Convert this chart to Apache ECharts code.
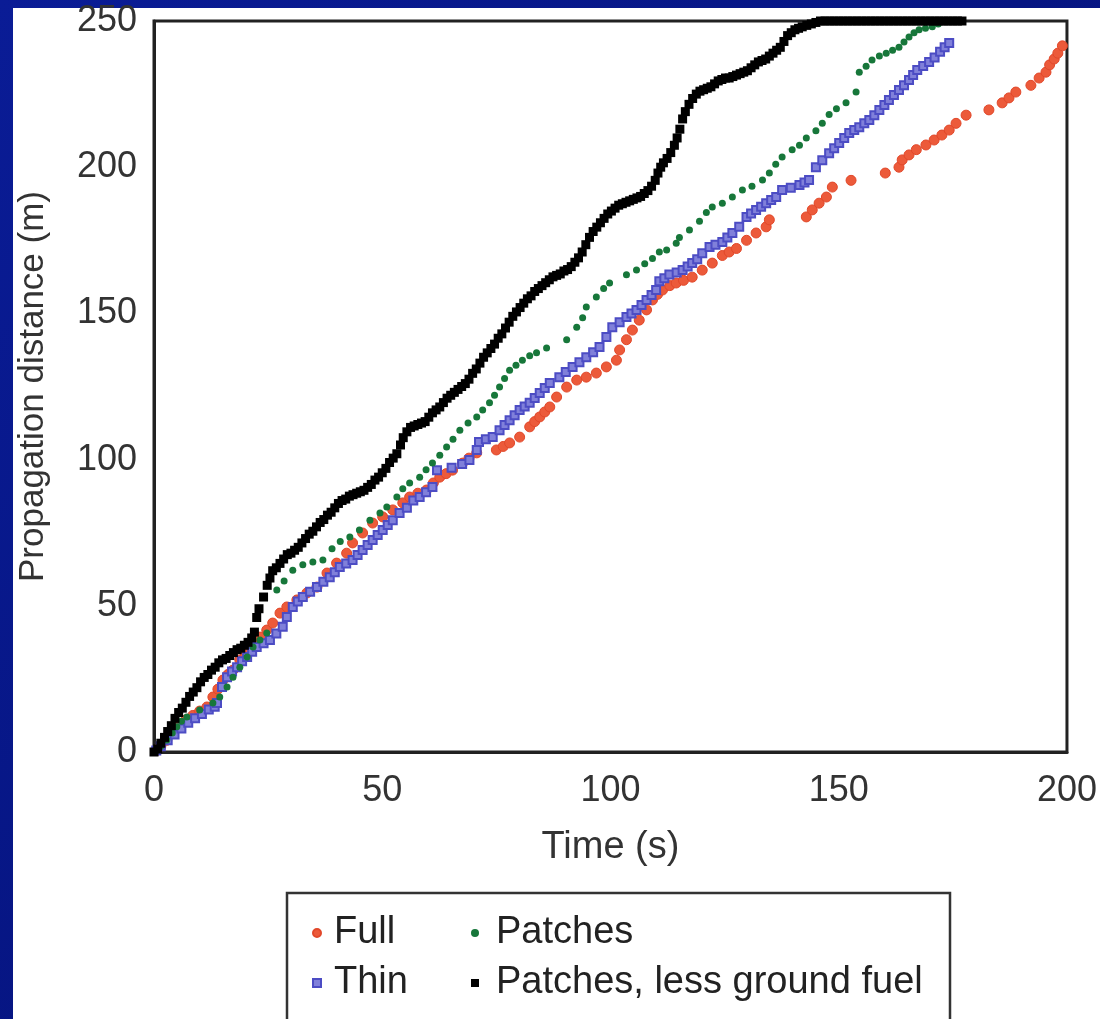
<!DOCTYPE html>
<html>
<head>
<meta charset="utf-8">
<script src="https://cdn.jsdelivr.net/npm/echarts@6/dist/echarts.min.js"></script>
<style>
html,body{margin:0;padding:0;background:#0a1a8a;}
#chart{width:1100px;height:1019px;}
</style>
</head>
<body>
<div id="chart"></div>
<script>
var seriesNames = ['Full', 'Thin', 'Patches', 'Patches, less ground fuel'];
var xTicks = [0, 50, 100, 150, 200];
var yTicks = [0, 50, 100, 150, 200, 250];

var fullData = [[0.5,0.5],[1.5,2],[2.8,4],[4.2,6.5],[5.6,9],[7,11],[8.5,12.5],[10,14],[11.6,15.4],[12.9,18.8],[14,21.5],[15.1,24.6],[16.2,26.5],[17.3,28],[18.8,31.5],[20,33],[21,34.9],[22.2,37],[23.2,39.3],[24.7,41.7],[26,44.1],[27.6,47.5],[29.1,49.6],[31.3,52],[33.5,54.4],[35.7,56.4],[37.9,61.2],[40,64.6],[42.2,68],[43.5,71.5],[45.7,74.9],[47.9,78.3],[50.1,80.4],[52.3,82.8],[54.5,85.2],[56,87.2],[57.8,88.5],[59.7,89.6],[61.2,92],[62.6,94],[64,95.2],[65.4,96.4],[67.6,98.8],[69,100.5],[70.7,102.3],[75,103.3],[76.5,104.5],[77.9,105.7],[80.1,107.7],[82.3,111.2],[83.4,113],[84.5,114.6],[85.6,116.3],[86.7,118],[88.2,121.4],[90.4,124.8],[92.6,127.2],[94.7,128.2],[96.9,129.6],[99.1,131.7],[101.3,134],[102,137.5],[103.5,141],[104.8,144.3],[106.3,147.7],[107.9,151.2],[109.2,154.6],[110.3,156.5],[111.4,158],[113,159.5],[114.4,160.4],[116,161.3],[117.9,162.4],[120.1,164.8],[122.3,167.2],[124.5,169.8],[126,171],[127.6,172.2],[129.8,175],[131.9,177.5],[134.1,179.6],[134.8,182],[142.9,183],[144.2,185.4],[145.7,187.7],[147.3,189.8],[148.6,193.2],[152.7,195.5],[160.2,198],[163.2,200],[163.9,202.5],[165.4,204.2],[167,206],[169.1,207.6],[170.9,209.3],[172.6,211],[174.2,212.7],[175.7,215],[177.9,217.8],[182.9,219.6],[185.8,222],[187.3,223.7],[188.8,225.7],[192.1,228],[193.9,230.5],[195.4,232.5],[196.2,235],[197.2,237],[198,239],[199,241.5]];

var thinData = [[0.5,0.5],[1.5,2],[3,4],[4.5,6],[6,8],[7.5,10],[9,11.5],[10.5,13],[12,14.5],[13.3,15.5],[13.8,16.8],[14.9,22.2],[16,25.6],[17.1,27.5],[18.2,29],[19.3,31],[20.4,32.5],[21.5,34.3],[22.5,35.9],[24,37.2],[25.4,38.3],[26.8,40.5],[28.2,42.8],[29.1,46.2],[30.4,49.6],[31.5,51.5],[32.6,53],[34.2,54.8],[35.7,56.4],[37.1,58.2],[38.5,59.8],[39.6,61.5],[40.7,63.3],[42.1,64.5],[43.5,65.7],[44.6,67.4],[45.7,69.1],[46.8,70.8],[47.9,72.5],[49,74.2],[50.1,75.9],[51.2,77.6],[52.3,79.3],[53.8,81.7],[55.4,83.5],[56.8,86],[58.2,87.2],[59.6,88.8],[61,90.6],[62,96.4],[65.2,97.2],[67.5,98.5],[69.1,99.9],[70.7,103.3],[71.2,106],[72.7,107],[74.2,107.7],[75.7,110],[76.8,111.8],[77.9,113.5],[79,115.2],[80.1,117],[81.2,118.2],[82.3,119.4],[83.4,121.1],[84.5,122.8],[85.6,124.5],[86.7,126.2],[88.8,128.2],[90.2,130],[91.7,131.7],[93.2,133.3],[94.7,135],[96.2,136.7],[97.6,138.5],[99.1,141.9],[100.4,145.3],[102,147],[103.5,148.8],[104.6,150],[105.7,151.2],[106.8,152.9],[107.9,154.6],[109,156.3],[110,158],[110.7,161],[111.8,162],[112.9,163.3],[114.5,164],[115.8,164.8],[116.9,166],[117.9,167.2],[119,168.5],[120.1,170.6],[121.7,172.7],[123,173.5],[124.5,174.4],[125.6,176],[126.7,177.5],[128.2,179.6],[129.8,183],[130.8,184.2],[131.9,185.4],[133,186.5],[134.1,187.7],[135.2,188.8],[136.3,189.8],[137.6,192.2],[139.5,193],[141.4,193.9],[142.5,194.8],[143.5,195.6],[145,200],[146.4,202.4],[147.9,204.8],[149,206.5],[150.1,208.3],[151.2,210],[152.3,211.7],[153.4,212.7],[154.5,213.7],[155.6,215],[156.7,216.1],[157.8,217.8],[158.9,219.6],[160,221.3],[161,223],[162.1,224.7],[163.2,226.4],[164.3,228],[165.4,229.8],[166.3,231.5],[167.2,233.2],[168.5,234.6],[169.8,236],[171,237.5],[172.2,239.5],[173.2,241],[174.2,242.5]];

var patchesData = [[0.5,0.5],[1.5,2],[2.8,4.1],[4,6.5],[5,8.6],[6,10.5],[7.2,12],[10,14.4],[12.9,16.8],[14.4,18.8],[16,22.2],[17.3,25.6],[18.8,29],[20.4,32.5],[21.7,35.9],[23.2,38.3],[24.7,40.7],[26.9,55.4],[28.5,58.5],[30.4,62.2],[32.6,64],[34.8,65],[37,65.7],[39,69.5],[40.8,72],[42.9,73.5],[45,75.9],[47.3,79.3],[49.5,81.7],[51,83.8],[53.2,87.2],[54.5,90],[56,92],[58.2,94],[59.6,96.5],[61,98.8],[62.6,101.5],[64.1,104.3],[65.5,107],[67,110],[68.8,112.5],[70.7,114.6],[72,117],[73.5,119.4],[74.6,122],[75.7,124.8],[76.8,127.7],[77.9,130.6],[79.3,132.3],[80.7,134],[82.3,135.5],[83.8,136.5],[86,138.2],[90.4,141],[92.6,145.3],[93.9,148.5],[94.7,152.2],[96.9,155.6],[98.5,158.5],[99.8,160.4],[103.5,163.2],[105.7,164.8],[107.5,167],[109.2,168.8],[110.7,171],[112.3,171.7],[114.4,174],[115.1,176],[117.3,178.5],[119.5,181.5],[121,184.5],[122.3,186.4],[124.5,187.7],[126.7,189.8],[128.9,192.2],[131,193.5],[133.3,195.6],[134.8,198],[136.2,201],[137.6,203.5],[139.8,206],[141.4,207.5],[142.9,210],[145,212.5],[146.4,215],[147.9,218],[149.5,220],[151.6,222],[153.8,225.7],[154.5,232.5],[156,234.5],[157.3,236.7],[158.9,238],[160.4,239],[161.8,240],[163.2,241],[164.3,242.8],[165.4,244.5],[166.5,246],[167.6,247],[169,247.5],[170.5,248],[171.8,249]];

var plgfData = [[0,0],[0.8,1],[1.5,3],[2.3,5],[3,7],[3.8,9],[4.6,11.5],[5.4,13.5],[6.2,15],[7,17],[7.8,19],[8.6,20.5],[9.4,22],[10.2,24],[11,25.5],[11.8,26.5],[12.6,28],[13.4,29],[14.2,30.5],[15,31.5],[15.8,32],[16.6,33],[17.4,34],[18.2,35],[19,35.5],[19.8,36.5],[20.6,37.5],[21.4,39],[22,41],[22.5,46],[23,49],[24,53],[24.8,57],[25.4,59.5],[26,62],[26.8,63],[27.6,64.5],[28.4,66],[29.2,67.5],[30,68],[30.8,69],[31.6,70],[32.4,71.5],[33.2,73],[34,74.5],[34.8,75.5],[35.6,77],[36.4,78.5],[37.2,79.5],[38,81],[38.8,82],[39.6,83.5],[40.4,85],[41.2,86],[42,86.5],[42.8,87.5],[43.6,88],[44.4,88.5],[45.2,89],[46,89.5],[46.8,90.5],[47.6,91.5],[48.4,93],[49.2,94],[50,95.5],[50.8,97],[51.6,99],[52.4,100.5],[53.2,102],[54,105],[54.6,107.5],[55.4,109.5],[56.2,111],[57,111.5],[57.8,112],[58.6,112.5],[59.4,113],[60.2,114.5],[61,116],[61.8,117],[62.6,118],[63.4,119.5],[64.2,121],[65,122],[65.8,123],[66.6,124],[67.4,125],[68.2,126],[69,127.5],[69.8,129.5],[70.6,131],[71.4,133],[72.2,135],[73,136.5],[73.8,138],[74.6,139.5],[75.4,141.5],[76.2,143],[77,145],[77.8,147],[78.6,149],[79.4,150.5],[80.2,152],[81,153.5],[81.8,155],[82.6,156],[83.4,157.5],[84.2,158.5],[85,159.5],[85.8,160.5],[86.6,161.5],[87.4,162.5],[88.2,163],[89,163.5],[89.8,164.5],[90.6,165],[91.4,166],[92.2,167.5],[93,169],[93.8,171],[94.6,173.5],[95.4,176],[96.2,178],[97,179.5],[97.8,181],[98.6,182.5],[99.4,184],[100.2,185],[101,186],[101.8,187],[102.6,187.5],[103.4,188],[104.2,188.5],[105,189],[105.8,189.5],[106.6,190],[107.4,191],[108.2,192],[109,193.5],[109.8,195.5],[110.4,198],[111,200],[111.6,201.5],[112.4,203],[113.2,205],[114,207.5],[114.6,210],[115.2,213],[115.8,216.5],[116.4,219],[117.2,221.5],[118,223.5],[118.8,225],[119.6,226],[120.4,226.5],[121.2,227],[122,227.5],[122.8,228.5],[123.6,229.5],[124.4,230],[125.2,230.5],[126,230.5],[126.8,231],[127.6,231.5],[128.4,232],[129.2,232.5],[130,233],[130.8,234],[131.6,235],[132.4,236],[133.2,236.5],[134,237],[134.8,238],[135.6,239],[136.4,240],[137.2,241],[138,243],[138.8,245],[139.6,246],[140.4,247],[141.2,247.5],[142,248],[143,248.5],[144,249],[145,249.5],[146,250],[147,250],[148,250],[149,250],[150,250],[151,250],[152,250],[153,250],[154,250],[155,250],[156,250],[157,250],[158,250],[159,250],[160,250],[161,250],[162,250],[163,250],[164,250],[165,250],[166,250],[167,250],[168,250],[169,250],[170,250],[171,250],[172,250],[173,250],[174,250],[175,250],[176,250],[177,250]];

var FONT = '"Liberation Sans", Arial, Helvetica, sans-serif';
var chart = echarts.init(document.getElementById('chart'));

chart.setOption({
  backgroundColor: '#0a1a8a',
  animation: false,
  graphic: [
    {type:'rect', z:-100, shape:{x:0,y:0,width:1100,height:1019},
     style:{fill:{type:'linear',x:0,y:0,x2:1,y2:1,colorStops:[{offset:0,color:'#0a1c96'},{offset:0.5,color:'#061582'},{offset:1,color:'#0a1c96'}]}}},
    {type:'rect', z:-99, shape:{x:13,y:8,width:1087,height:1011}, style:{fill:'#ffffff'}},
    {type:'rect', z:10, shape:{x:287,y:893,width:663,height:150}, style:{fill:'none',stroke:'#333',lineWidth:2.5}}
  ],
  grid: {left:154, right:32, top:21, bottom:267, show:true, borderColor:'#222', borderWidth:3, backgroundColor:'transparent'},
  xAxis: {
    type:'value', min:0, max:200, interval:50,
    name:'Time (s)', nameLocation:'middle', nameGap:77,
    nameTextStyle:{fontSize:38, color:'#333', fontFamily:FONT},
    axisLine:{show:true, lineStyle:{color:'#222', width:3}},
    axisTick:{show:false}, splitLine:{show:false},
    axisLabel:{fontSize:36, color:'#333', fontFamily:FONT, margin:21,
      formatter:function(v){ return xTicks.indexOf(v) >= 0 ? String(v) : ''; }}
  },
  yAxis: {
    type:'value', min:0, max:250, interval:50,
    name:'Propagation distance (m)', nameLocation:'middle', nameGap:103, nameRotate:90,
    nameTextStyle:{fontSize:35, color:'#333', fontFamily:FONT},
    axisLine:{show:true, lineStyle:{color:'#222', width:3}},
    axisTick:{show:false}, splitLine:{show:false},
    axisLabel:{fontSize:36, color:'#333', fontFamily:FONT, margin:17,
      formatter:function(v){ return yTicks.indexOf(v) >= 0 ? String(v) : ''; }}
  },
  legend: [
    {data:[seriesNames[0], seriesNames[1]], orient:'vertical', left:307, top:909,
     itemWidth:8, itemHeight:8, itemGap:12, selectedMode:false,
     textStyle:{fontSize:38, color:'#222', fontFamily:FONT, padding:[0,0,0,8]}},
    {data:[seriesNames[2], seriesNames[3]], orient:'vertical', left:466, top:909,
     itemWidth:8, itemHeight:8, itemGap:12, selectedMode:false,
     textStyle:{fontSize:38, color:'#222', fontFamily:FONT, padding:[0,0,0,12]}}
  ],
  series: [
    {name:seriesNames[0], type:'scatter', data:fullData, symbol:'circle', symbolSize:10, z:3,
     itemStyle:{color:'#ec5a3a', borderColor:'#e2482a', borderWidth:1, opacity:1}},
    {name:seriesNames[1], type:'scatter', data:thinData, symbol:'rect', symbolSize:8, z:4,
     itemStyle:{color:'#8080da', borderColor:'#4c4cc4', borderWidth:2, opacity:1}},
    {name:seriesNames[2], type:'scatter', data:patchesData, symbol:'circle', symbolSize:7, z:5,
     itemStyle:{color:'#17773a', opacity:1}},
    {name:seriesNames[3], type:'scatter', data:plgfData, symbol:'rect', symbolSize:9, z:6,
     itemStyle:{color:'#000000', opacity:1}}
  ]
});
</script>
</body>
</html>
